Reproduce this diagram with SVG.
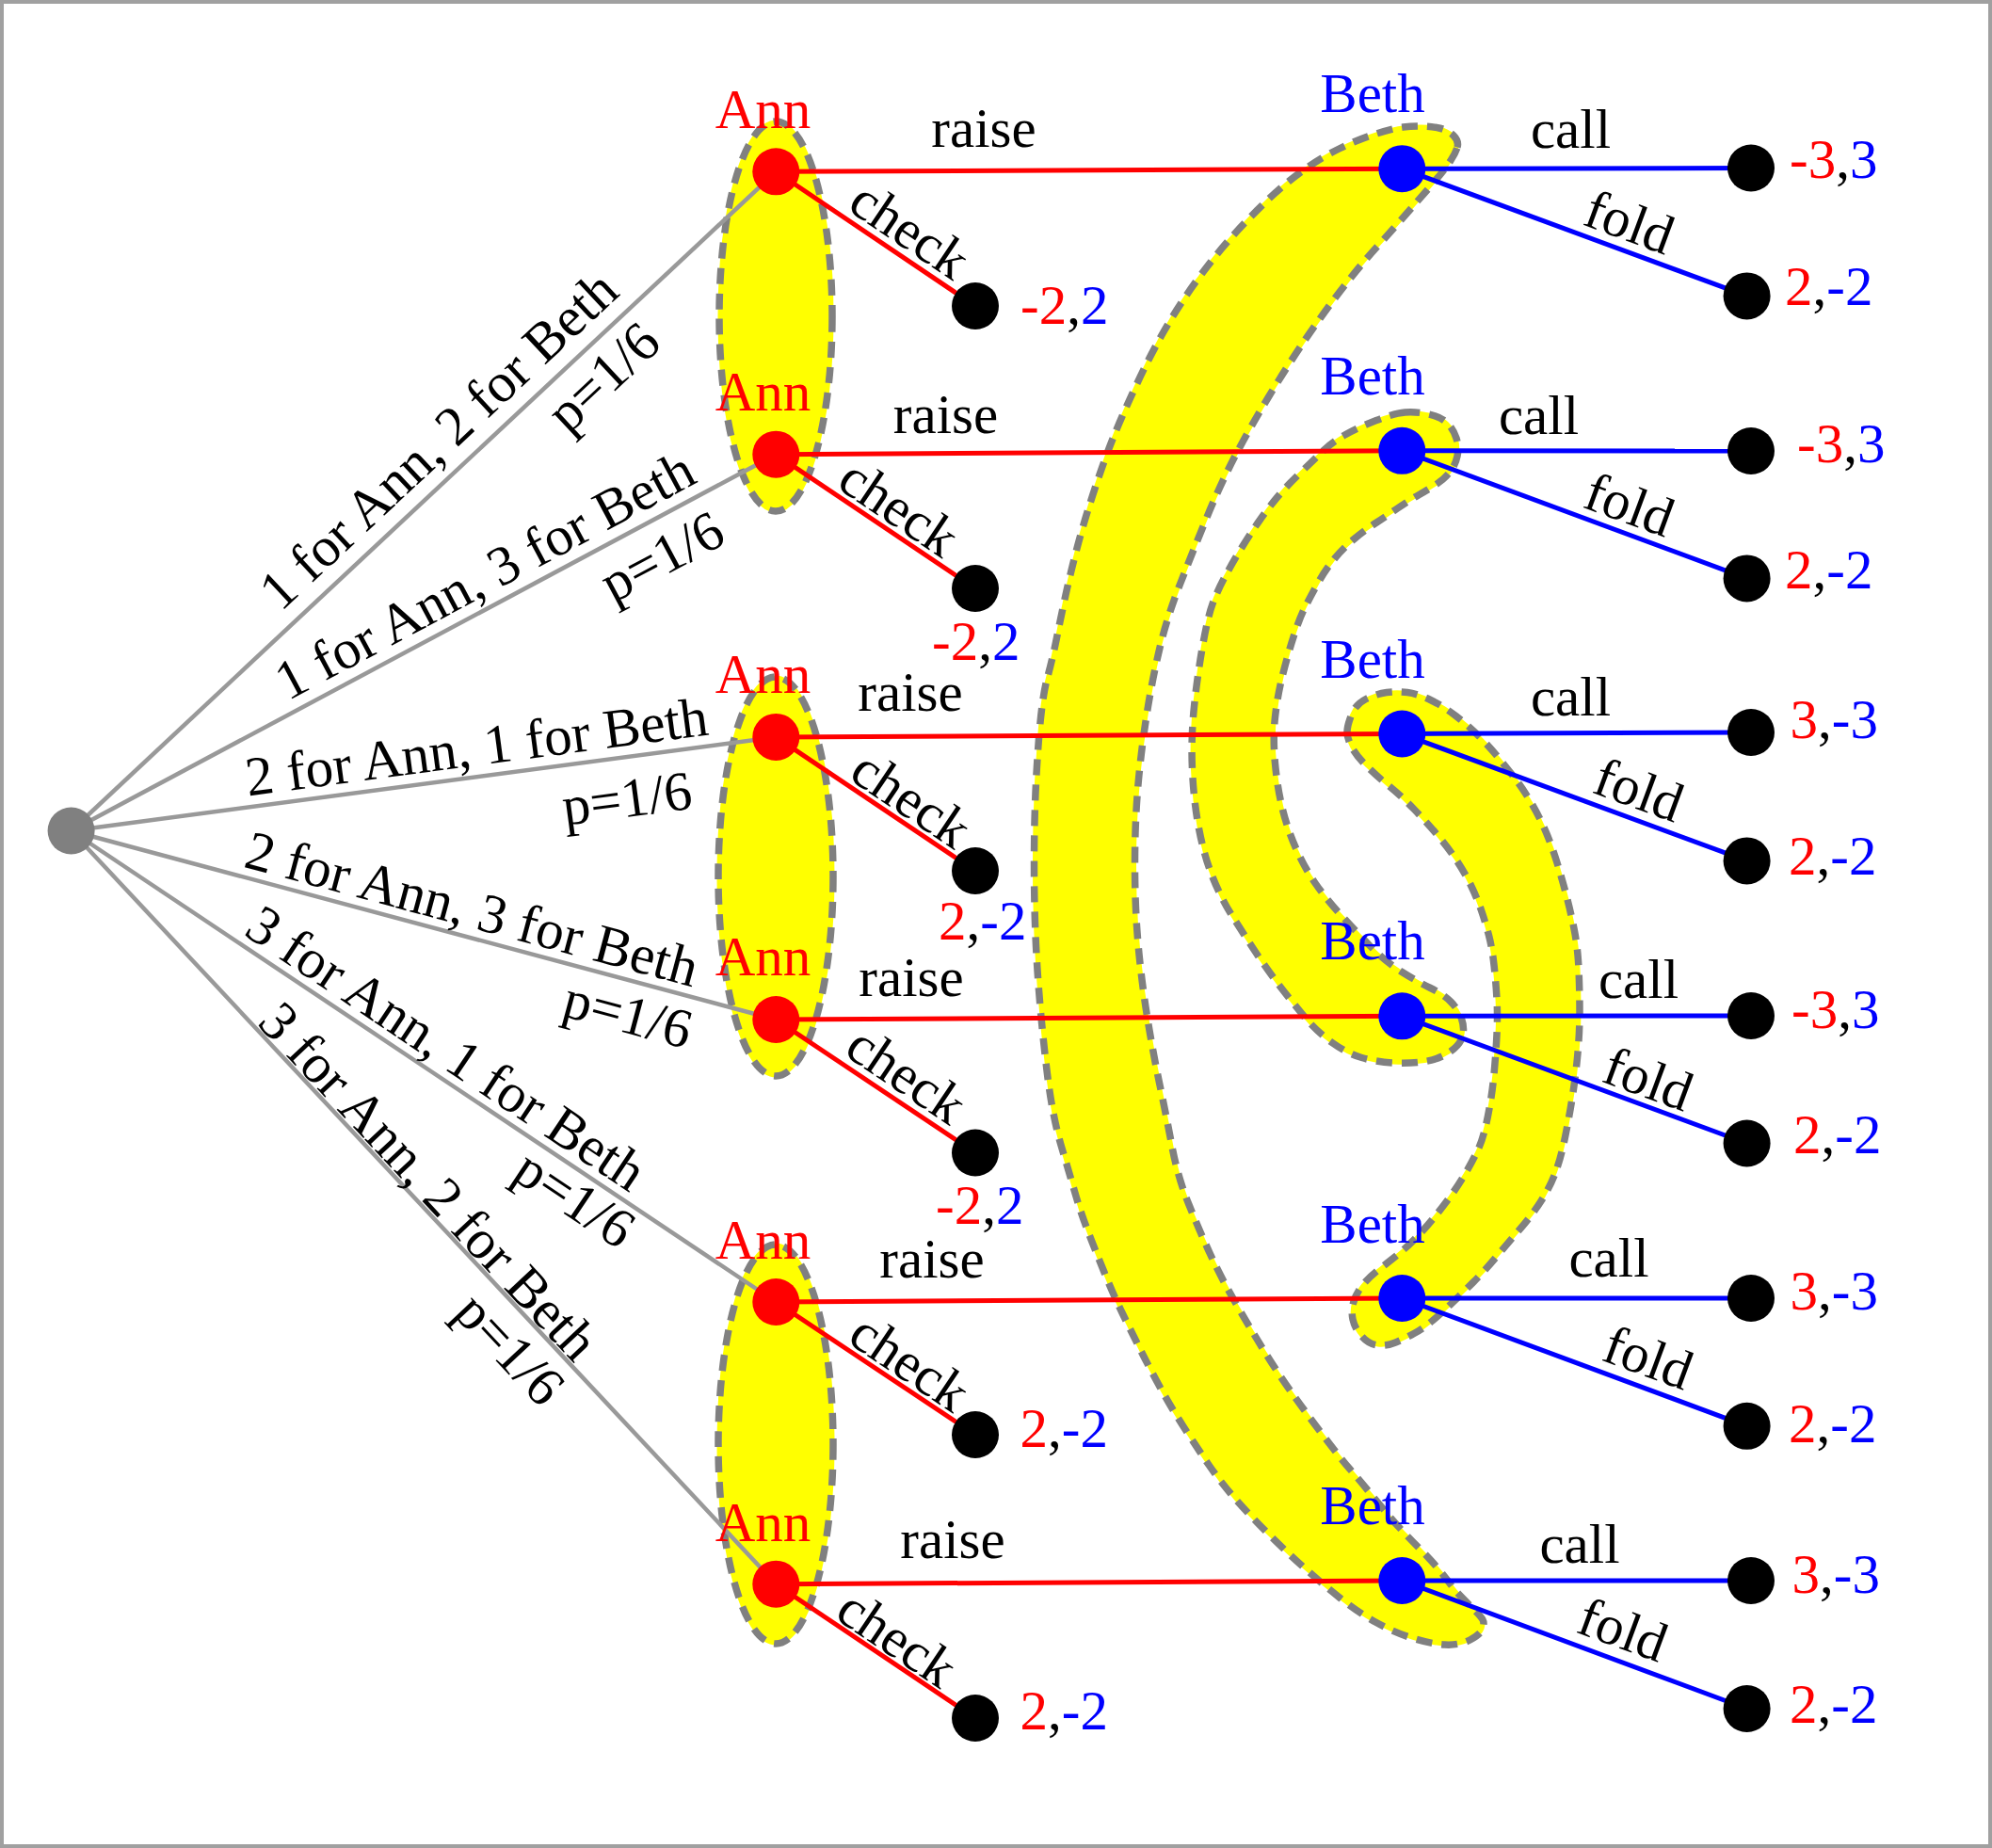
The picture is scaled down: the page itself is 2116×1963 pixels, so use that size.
<svg xmlns="http://www.w3.org/2000/svg" width="2116" height="1963" viewBox="0 0 2116 1963">
<style>
.t{font-family:"Liberation Serif","Times New Roman",serif;font-size:59px;fill:#000}
.mid{text-anchor:middle}
.r{fill:#ff0000}
.b{fill:#0000ff}
.k{fill:#000000}
.chance{stroke:#999999;stroke-width:4.5;fill:none}
.ae{stroke:#ff0000;stroke-width:5;fill:none}
.be{stroke:#0000ff;stroke-width:5;fill:none}
.setf{fill:#ffff00;stroke:#ffff00;stroke-width:3}
.setd{fill:none;stroke:#808080;stroke-width:7.5;stroke-dasharray:17 10;stroke-linejoin:round}
.nroot{fill:#808080}
.nann{fill:#ff0000}
.nbeth{fill:#0000ff}
.nleaf{fill:#000000}
</style>
<defs>
<ellipse id="e1" cx="824" cy="336" rx="60" ry="207"/>
<ellipse id="e2" cx="824" cy="931" rx="61" ry="212"/>
<ellipse id="e3" cx="824" cy="1534" rx="61" ry="212"/>
<path id="bandA" d="M1548,156.5 Q1550,150 1544,144 1538,138 1528.5,136 1519,134 1509.5,134 1500,134 1490.5,135 1481,136 1462,142 1443,148 1423.5,157.5 1404,167 1385,180.5 1366,194 1347,212 1328,230 1309,251 1290,272 1270.5,299 1251,326 1236,352.5 1221,379 1207.5,408 1194,437 1184.5,460 1175,483 1163.5,517.5 1152,552 1144.5,580.5 1137,609 1132,632 1127,655 1122.5,677.5 1118,700 1112.5,720 1107,740 1103.5,784.5 1100,829 1099,873.5 1098,918 1099,962.5 1100,1007 1103.5,1051.5 1107,1096 1112.5,1141 1118,1186 1127.5,1218 1137,1250 1142.5,1269 1148,1288 1155.5,1307.5 1163,1327 1173,1351.5 1183,1376 1192.5,1395.5 1202,1415 1211.5,1434 1221,1453 1232.5,1474 1244,1495 1257.5,1516 1271,1537 1284,1556 1297,1575 1312.5,1592.5 1328,1610 1347,1629 1366,1648 1385,1665 1404,1682 1423.5,1697.5 1443,1713 1462,1723.5 1481,1734 1500,1740 1519,1746 1534.5,1747 1550,1748 1561.5,1742 1573,1736 1575,1730 1577,1724 1575,1720.5 1573,1717 1567,1711 1561,1705 1553.5,1697.5 1546,1690 1540.5,1682.5 1535,1675 1527,1665.5 1519,1656 1509.5,1646.5 1500,1637 1490.5,1627 1481,1617 1471.5,1605.5 1462,1594 1452.5,1582.5 1443,1571 1433.5,1560 1424,1549 1406.5,1526 1389,1503 1374,1482 1359,1461 1343.5,1436 1328,1411 1312.5,1384 1297,1357 1285.5,1332 1274,1307 1262.5,1278.5 1251,1250 1245,1218 1239,1186 1232,1152.5 1225,1119 1219.5,1085.5 1214,1052 1210.5,1018.5 1207,985 1206,951.5 1205,918 1206,884.5 1207,851 1210.5,817.5 1214,784 1219.5,750.5 1225,717 1232.5,686 1240,655 1253.5,620.5 1267,586 1282,549.5 1297,513 1312.5,483.5 1328,454 1347,422.5 1366,391 1385,363 1404,335 1423.5,309.5 1443,284 1462,263 1481,242 1494.5,226.5 1508,211 1515.5,202.5 1523,194 1529.5,186 1536,178 1541,170.5 1546,163 1548,156.5 Z"/>
<path id="bandB" d="M1492.5,438 Q1481,439 1462,446.5 1443,454 1429.5,461.5 1416,469 1406.5,478 1397,487 1381.5,502 1366,517 1356.5,528.5 1347,540 1337.5,553.5 1328,567 1318.5,582.5 1309,598 1301,613 1293,628 1288,641.5 1283,655 1277.5,686 1272,717 1268.5,750.5 1265,784 1266.5,817.5 1268,851 1273.5,880 1279,909 1288,931.5 1297,954 1308,971.5 1319,989 1332.5,1009.5 1346,1030 1359.5,1047.5 1373,1065 1386,1080.5 1399,1096 1415,1107.5 1431,1119 1446.5,1123.5 1462,1128 1480,1129 1498,1130 1513.5,1127.5 1529,1125 1540,1117.5 1551,1110 1553.5,1101 1556,1092 1552.5,1082 1549,1072 1541,1064 1533,1056 1519.5,1049.5 1506,1043 1488.5,1032 1471,1021 1455.5,1005 1440,989 1424,971.5 1408,954 1397,938 1386,922 1377,902 1368,882 1362.5,860 1357,838 1354.5,811 1352,784 1354.5,761.5 1357,739 1362.5,717 1368,695 1374.5,675 1381,655 1387,643.5 1393,632 1400.5,618.5 1408,605 1417.5,593.5 1427,582 1438.5,572.5 1450,563 1461.5,555.5 1473,548 1484.5,540 1496,532 1507.5,525.5 1519,519 1527,513.5 1535,508 1540.5,501 1546,494 1548,484.5 1550,475 1547,465.5 1544,456 1537.5,449.5 1531,443 1517.5,440 1504,437 1492.5,438 Z"/>
<path id="bandC" d="M1431,777.5 Q1431,771 1435.5,759.5 1440,748 1451,742.5 1462,737 1473,735.5 1484,734 1495,735.5 1506,737 1519.5,743.5 1533,750 1546.5,760.5 1560,771 1571,782 1582,793 1591,804 1600,815 1609,826.5 1618,838 1627,853.5 1636,869 1642.5,884.5 1649,900 1654.5,918 1660,936 1664.5,953.5 1669,971 1672.5,989 1676,1007 1677,1029.5 1678,1052 1678,1074 1678,1096 1676,1118.5 1674,1141 1670.5,1163.5 1667,1186 1662.5,1208 1658,1230 1652.5,1245 1647,1260 1637.5,1275 1628,1290 1615.5,1304.5 1603,1319 1590,1334.5 1577,1350 1565.5,1361.5 1554,1373 1542.5,1384 1531,1395 1521.5,1403 1512,1411 1502,1416.5 1492,1422 1482.5,1426 1473,1430 1463.5,1429 1454,1428 1446.5,1419.5 1439,1411 1437,1401.5 1435,1392 1438,1382.5 1441,1373 1447.5,1365 1454,1357 1463.5,1349.5 1473,1342 1482.5,1334.5 1492,1327 1502,1317 1512,1307 1521.5,1295.5 1531,1284 1540.5,1271 1550,1258 1558,1244 1566,1230 1571,1219 1576,1208 1580.5,1185.5 1585,1163 1587,1141 1589,1119 1590,1099 1591,1079 1590,1061 1589,1043 1587,1025 1585,1007 1581.5,993.5 1578,980 1573.5,967 1569,954 1562.5,940.5 1556,927 1547,913.5 1538,900 1526.5,886.5 1515,873 1502,859.5 1489,846 1475.5,835 1462,824 1451,813 1440,802 1435.5,793 1431,784 1431,777.5 Z"/>
</defs>
<rect x="2" y="2" width="2112" height="1959" fill="#ffffff" stroke="#a0a0a0" stroke-width="4"/>
<g id="information-sets">
<g id="ann-set-1"><use href="#e1" class="setf"/><use href="#e1" class="setd"/></g>
<g id="ann-set-2"><use href="#e2" class="setf"/><use href="#e2" class="setd"/></g>
<g id="ann-set-3"><use href="#e3" class="setf"/><use href="#e3" class="setd"/></g>
<g id="beth-set-A"><use href="#bandA" class="setf"/><use href="#bandA" class="setd"/></g>
<g id="beth-set-B"><use href="#bandB" class="setf"/><use href="#bandB" class="setd"/></g>
<g id="beth-set-C"><use href="#bandC" class="setf"/><use href="#bandC" class="setd"/></g>
</g>
<g id="connectors">
<line class="chance" x1="75.6" y1="882.5" x2="824.3" y2="182.3"/>
<line class="chance" x1="75.6" y1="882.5" x2="824.3" y2="482.7"/>
<line class="chance" x1="75.6" y1="882.5" x2="824.3" y2="782.9"/>
<line class="chance" x1="75.6" y1="882.5" x2="824.3" y2="1083"/>
<line class="chance" x1="75.6" y1="882.5" x2="824.3" y2="1383"/>
<line class="chance" x1="75.6" y1="882.5" x2="824.3" y2="1682.7"/>
<line class="ae" x1="824.3" y1="182.3" x2="1489.3" y2="179.2"/>
<line class="ae" x1="824.3" y1="482.7" x2="1489.3" y2="478.8"/>
<line class="ae" x1="824.3" y1="782.9" x2="1489.3" y2="779.5"/>
<line class="ae" x1="824.3" y1="1083" x2="1489.3" y2="1079.3"/>
<line class="ae" x1="824.3" y1="1383" x2="1489.3" y2="1379"/>
<line class="ae" x1="824.3" y1="1682.7" x2="1489.3" y2="1679"/>
<line class="ae" x1="824.3" y1="182.3" x2="1036" y2="325"/>
<line class="ae" x1="824.3" y1="482.7" x2="1036" y2="625"/>
<line class="ae" x1="824.3" y1="782.9" x2="1036" y2="925"/>
<line class="ae" x1="824.3" y1="1083" x2="1036" y2="1224.5"/>
<line class="ae" x1="824.3" y1="1383" x2="1036" y2="1524"/>
<line class="ae" x1="824.3" y1="1682.7" x2="1036" y2="1825"/>
<line class="be" x1="1489.3" y1="179.2" x2="1860" y2="178.5"/>
<line class="be" x1="1489.3" y1="478.8" x2="1860" y2="479"/>
<line class="be" x1="1489.3" y1="779.5" x2="1860" y2="778"/>
<line class="be" x1="1489.3" y1="1079.3" x2="1860" y2="1079"/>
<line class="be" x1="1489.3" y1="1379" x2="1860" y2="1379"/>
<line class="be" x1="1489.3" y1="1679" x2="1860" y2="1679"/>
<line class="be" x1="1489.3" y1="179.2" x2="1855.6" y2="314.4"/>
<line class="be" x1="1489.3" y1="478.8" x2="1855.6" y2="614.4"/>
<line class="be" x1="1489.3" y1="779.5" x2="1855.6" y2="914.4"/>
<line class="be" x1="1489.3" y1="1079.3" x2="1855.6" y2="1214.5"/>
<line class="be" x1="1489.3" y1="1379" x2="1855.6" y2="1514.8"/>
<line class="be" x1="1489.3" y1="1679" x2="1855.6" y2="1815"/>
</g>
<g id="edge-labels" class="t mid">
<text transform="translate(479,481.5) rotate(-43.08)">1 for Ann, 2 for Beth</text>
<text transform="translate(654,414.7) rotate(-43.08)">p=1/6</text>
<text transform="translate(524.1,628.1) rotate(-28.1)">1 for Ann, 3 for Beth</text>
<text transform="translate(712.3,608.4) rotate(-28.1)">p=1/6</text>
<text transform="translate(508.7,812.9) rotate(-7.58)">2 for Ann, 1 for Beth</text>
<text transform="translate(668.5,867.6) rotate(-7.58)">p=1/6</text>
<text transform="translate(496.4,984.4) rotate(14.99)">2 for Ann, 3 for Beth</text>
<text transform="translate(661.9,1096.3) rotate(14.99)">p=1/6</text>
<text transform="translate(463.2,1129.6) rotate(33.76)">3 for Ann, 1 for Beth</text>
<text transform="translate(599.8,1289.4) rotate(33.76)">p=1/6</text>
<text transform="translate(441.1,1268.1) rotate(46.91)">3 for Ann, 2 for Beth</text>
<text transform="translate(527.4,1446.2) rotate(46.91)">p=1/6</text>
<text x="1045" y="156">raise</text>
<text x="1004.5" y="460">raise</text>
<text x="967" y="755">raise</text>
<text x="968" y="1058">raise</text>
<text x="990" y="1356.5">raise</text>
<text x="1012" y="1655">raise</text>
<text transform="translate(955.4,260.4) rotate(34)">check</text>
<text transform="translate(943.9,555.4) rotate(34)">check</text>
<text transform="translate(956.9,864.9) rotate(34)">check</text>
<text transform="translate(951.9,1157.9) rotate(34)">check</text>
<text transform="translate(955.4,1463.4) rotate(34)">check</text>
<text transform="translate(941.9,1756.4) rotate(34)">check</text>
<text x="1668.5" y="156.5">call</text>
<text x="1634.5" y="461">call</text>
<text x="1668.5" y="760">call</text>
<text x="1740.5" y="1060">call</text>
<text x="1709" y="1356">call</text>
<text x="1678" y="1660">call</text>
<text transform="translate(1724.1,254.4) rotate(20.26)">fold</text>
<text transform="translate(1724.1,554.6) rotate(20.26)">fold</text>
<text transform="translate(1734.1,857.6) rotate(20.26)">fold</text>
<text transform="translate(1744.1,1164.6) rotate(20.26)">fold</text>
<text transform="translate(1744.1,1460.6) rotate(20.26)">fold</text>
<text transform="translate(1717.1,1749.6) rotate(20.26)">fold</text>
</g>
<g id="root"><circle class="nroot" cx="75.6" cy="882.5" r="25"/></g>
<g id="ann1"><circle class="nann" cx="824.3" cy="182.3" r="25"/><text class="t mid r" x="810.5" y="135.6">Ann</text></g>
<g id="ann2"><circle class="nann" cx="824.3" cy="482.7" r="25"/><text class="t mid r" x="810.5" y="436">Ann</text></g>
<g id="ann3"><circle class="nann" cx="824.3" cy="782.9" r="25"/><text class="t mid r" x="810.5" y="736.2">Ann</text></g>
<g id="ann4"><circle class="nann" cx="824.3" cy="1083" r="25"/><text class="t mid r" x="810.5" y="1036.3">Ann</text></g>
<g id="ann5"><circle class="nann" cx="824.3" cy="1383" r="25"/><text class="t mid r" x="810.5" y="1337">Ann</text></g>
<g id="ann6"><circle class="nann" cx="824.3" cy="1682.7" r="25"/><text class="t mid r" x="810.5" y="1636.5">Ann</text></g>
<g id="beth1"><circle class="nbeth" cx="1489.3" cy="179.2" r="25"/><text class="t mid b" x="1458" y="119.2">Beth</text></g>
<g id="beth2"><circle class="nbeth" cx="1489.3" cy="478.8" r="25"/><text class="t mid b" x="1458" y="418.8">Beth</text></g>
<g id="beth3"><circle class="nbeth" cx="1489.3" cy="779.5" r="25"/><text class="t mid b" x="1458" y="719.5">Beth</text></g>
<g id="beth4"><circle class="nbeth" cx="1489.3" cy="1079.3" r="25"/><text class="t mid b" x="1458" y="1019.3">Beth</text></g>
<g id="beth5"><circle class="nbeth" cx="1489.3" cy="1379" r="25"/><text class="t mid b" x="1458" y="1319.5">Beth</text></g>
<g id="beth6"><circle class="nbeth" cx="1489.3" cy="1679" r="25"/><text class="t mid b" x="1458" y="1619.2">Beth</text></g>
<g id="check1"><circle class="nleaf" cx="1036" cy="325" r="25"/><text class="t" x="1084" y="343.5"><tspan class="r">-2</tspan><tspan class="k">,</tspan><tspan class="b">2</tspan></text></g>
<g id="check2"><circle class="nleaf" cx="1036" cy="625" r="25"/><text class="t" x="990" y="701"><tspan class="r">-2</tspan><tspan class="k">,</tspan><tspan class="b">2</tspan></text></g>
<g id="check3"><circle class="nleaf" cx="1036" cy="925" r="25"/><text class="t" x="997" y="998"><tspan class="r">2</tspan><tspan class="k">,</tspan><tspan class="b">-2</tspan></text></g>
<g id="check4"><circle class="nleaf" cx="1036" cy="1224.5" r="25"/><text class="t" x="994" y="1299.5"><tspan class="r">-2</tspan><tspan class="k">,</tspan><tspan class="b">2</tspan></text></g>
<g id="check5"><circle class="nleaf" cx="1036" cy="1524" r="25"/><text class="t" x="1083.5" y="1537"><tspan class="r">2</tspan><tspan class="k">,</tspan><tspan class="b">-2</tspan></text></g>
<g id="check6"><circle class="nleaf" cx="1036" cy="1825" r="25"/><text class="t" x="1083.5" y="1837.4"><tspan class="r">2</tspan><tspan class="k">,</tspan><tspan class="b">-2</tspan></text></g>
<g id="call1"><circle class="nleaf" cx="1860" cy="178.5" r="25"/><text class="t" x="1901" y="189"><tspan class="r">-3</tspan><tspan class="k">,</tspan><tspan class="b">3</tspan></text></g>
<g id="fold1"><circle class="nleaf" cx="1855.6" cy="314.4" r="25"/><text class="t" x="1896" y="324"><tspan class="r">2</tspan><tspan class="k">,</tspan><tspan class="b">-2</tspan></text></g>
<g id="call2"><circle class="nleaf" cx="1860" cy="479" r="25"/><text class="t" x="1909" y="490.6"><tspan class="r">-3</tspan><tspan class="k">,</tspan><tspan class="b">3</tspan></text></g>
<g id="fold2"><circle class="nleaf" cx="1855.6" cy="614.4" r="25"/><text class="t" x="1896" y="625"><tspan class="r">2</tspan><tspan class="k">,</tspan><tspan class="b">-2</tspan></text></g>
<g id="call3"><circle class="nleaf" cx="1860" cy="778" r="25"/><text class="t" x="1901.5" y="784"><tspan class="r">3</tspan><tspan class="k">,</tspan><tspan class="b">-3</tspan></text></g>
<g id="fold3"><circle class="nleaf" cx="1855.6" cy="914.4" r="25"/><text class="t" x="1900" y="929"><tspan class="r">2</tspan><tspan class="k">,</tspan><tspan class="b">-2</tspan></text></g>
<g id="call4"><circle class="nleaf" cx="1860" cy="1079" r="25"/><text class="t" x="1903" y="1091.6"><tspan class="r">-3</tspan><tspan class="k">,</tspan><tspan class="b">3</tspan></text></g>
<g id="fold4"><circle class="nleaf" cx="1855.6" cy="1214.5" r="25"/><text class="t" x="1905" y="1224.5"><tspan class="r">2</tspan><tspan class="k">,</tspan><tspan class="b">-2</tspan></text></g>
<g id="call5"><circle class="nleaf" cx="1860" cy="1379" r="25"/><text class="t" x="1901.5" y="1390.7"><tspan class="r">3</tspan><tspan class="k">,</tspan><tspan class="b">-3</tspan></text></g>
<g id="fold5"><circle class="nleaf" cx="1855.6" cy="1514.8" r="25"/><text class="t" x="1900" y="1531.7"><tspan class="r">2</tspan><tspan class="k">,</tspan><tspan class="b">-2</tspan></text></g>
<g id="call6"><circle class="nleaf" cx="1860" cy="1679" r="25"/><text class="t" x="1903.5" y="1691.6"><tspan class="r">3</tspan><tspan class="k">,</tspan><tspan class="b">-3</tspan></text></g>
<g id="fold6"><circle class="nleaf" cx="1855.6" cy="1815" r="25"/><text class="t" x="1901" y="1829.5"><tspan class="r">2</tspan><tspan class="k">,</tspan><tspan class="b">-2</tspan></text></g>
</svg>
